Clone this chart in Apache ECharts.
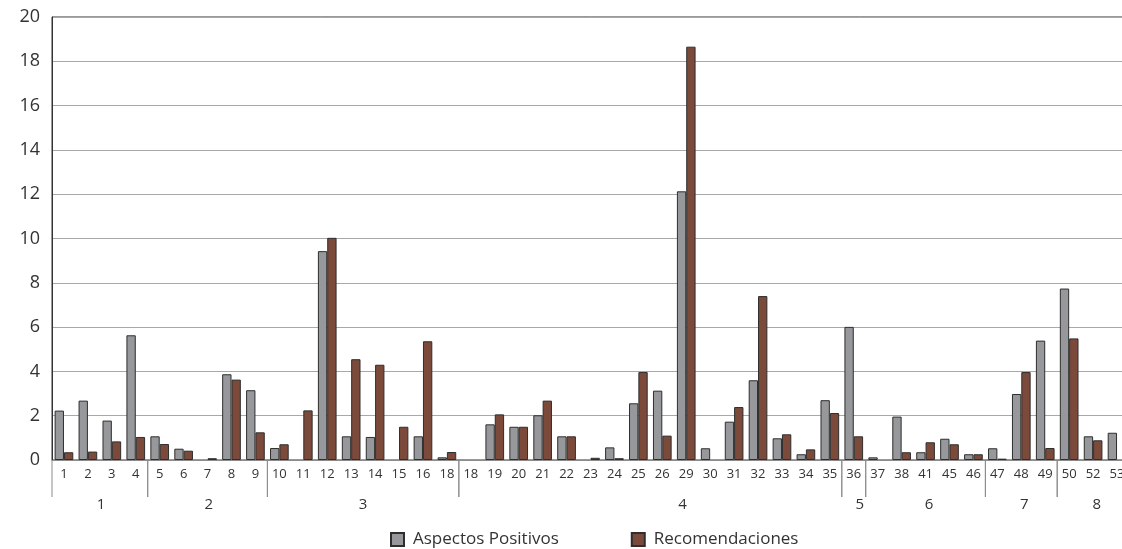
<!DOCTYPE html>
<html>
<head>
<meta charset="utf-8">
<script src="https://cdn.jsdelivr.net/npm/echarts@6/dist/echarts.min.js"></script>
<style>
html,body{margin:0;padding:0;background:#fff;overflow:hidden;width:1122px;height:549px;}
#chart{width:1134px;height:549px;}
</style>
</head>
<body>
<div id="chart"></div>
<script>
// Categories (sub-items) along the x axis
const categories = ['1','2','3','4','5','6','7','8','9','10','11','12','13','14','15','16','18','18','19','20','21','22','23','24','25','26','29','30','31','32','33','34','35','36','37','38','41','45','46','47','48','49','50','52','53'];
// Group names and how many categories each spans
const groupNames = ['1','2','3','4','5','6','7','8'];
const groupSizes = [4, 5, 8, 16, 1, 5, 3, 3];
// Series values
const aspectosPositivos = [2.23,2.68,1.78,5.63,1.07,0.51,0,3.87,3.15,0.54,0,9.43,1.07,1.04,0,1.07,0.12,0,1.61,1.5,2.02,1.07,0,0.57,2.56,3.13,12.13,0.53,1.73,3.6,0.98,0.26,2.7,6.01,0.12,1.96,0.35,0.96,0.26,0.53,2.98,5.39,7.74,1.07,1.23];
const recomendaciones   = [0.35,0.38,0.84,1.04,0.72,0.42,0.08,3.63,1.25,0.71,2.24,10.03,4.55,4.3,1.5,5.36,0.36,0,2.06,1.5,2.68,1.07,0.1,0.08,3.97,1.1,18.66,0,2.39,7.4,1.16,0.48,2.12,1.07,0,0.35,0.8,0.71,0.26,0.06,3.97,0.54,5.49,0.89,0];
// Y axis ticks
const yMin = 0, yMax = 20, yStep = 2;

// Build group spans [start, end, nameIndex]
const groupSpans = [];
let idx = 0;
groupSizes.forEach((n, i) => { groupSpans.push([idx, idx + n - 1, i]); idx += n; });

// zero values are not drawn as bars
const asBars = arr => arr.map(v => (v === 0 ? null : v));

const FONT = 'Open Sans';
const chart = echarts.init(document.getElementById('chart'), null, {renderer: 'canvas'});

// label shift (in category units) to reproduce the original's placement of the group labels
const labelShift = {0: 0.05, 1: 0.05, 2: 0, 3: 1.35, 4: 0.25, 5: 0.15, 6: 0.12, 7: 0.15};

chart.setOption({
  animation: false,
  textStyle: {fontFamily: FONT},
  grid: {left: 52, right: 5, top: 17, bottom: 89, show: true, borderColor: '#333', borderWidth: 1, backgroundColor: 'transparent', containLabel: false},
  legend: {
    left: 385, top: 526,
    itemWidth: 13, itemHeight: 13, itemGap: 72,
    icon: 'rect',
    textStyle: {fontSize: 17, color: '#333', fontFamily: FONT, padding: [0,0,0,4]},
    data: ['Aspectos Positivos', 'Recomendaciones']
  },
  xAxis: {
    type: 'category',
    data: categories,
    axisLine: {show: true, lineStyle: {color: '#8c8c8c', width: 1}},
    axisTick: {show: false},
    axisLabel: {interval: 0, fontSize: 13, color: '#333', margin: 8, fontFamily: FONT},
    splitLine: {show: false}
  },
  yAxis: {
    type: 'value',
    min: yMin, max: yMax, interval: yStep,
    axisLine: {show: true, lineStyle: {color: '#333', width: 1}},
    axisTick: {show: false},
    axisLabel: {fontSize: 18, color: '#333', margin: 12, fontFamily: FONT},
    splitLine: {show: true, lineStyle: {color: '#a8a8a8', width: 1.2}}
  },
  series: [
    {
      name: 'Aspectos Positivos', type: 'bar', data: asBars(aspectosPositivos),
      barGap: '0%', barCategoryGap: '22%',
      itemStyle: {color: '#96989b', borderColor: '#2e2e2e', borderWidth: 1}
    },
    {
      name: 'Recomendaciones', type: 'bar', data: asBars(recomendaciones),
      barGap: '0%', barCategoryGap: '22%',
      itemStyle: {color: '#7b4a3b', borderColor: '#2e2e2e', borderWidth: 1}
    },
    {
      type: 'custom', silent: true, clip: false, z: 5,
      encode: {x: 0},
      data: groupSpans,
      renderItem: function (params, api) {
        const s = api.value(0), e = api.value(1), gi = api.value(2);
        const ps = api.coord([s, 0]);
        const pe = api.coord([e, 0]);
        const w = api.size([1, 0])[0];
        const left = ps[0] - w / 2, right = pe[0] + w / 2;
        const y0 = ps[1];
        const cx = (left + right) / 2 + (labelShift[gi] || 0) * w;
        return {
          type: 'group',
          children: [
            {type: 'line', shape: {x1: left, y1: y0, x2: left, y2: y0 + 37}, style: {stroke: '#8c8c8c', lineWidth: 1}},
            {type: 'line', shape: {x1: right, y1: y0, x2: right, y2: y0 + 37}, style: {stroke: '#8c8c8c', lineWidth: 1}},
            {type: 'text', style: {x: cx, y: y0 + 45, text: groupNames[gi], fill: '#333', font: '15px "' + FONT + '"', textAlign: 'center', textVerticalAlign: 'middle'}}
          ]
        };
      }
    }
  ]
});
</script>
</body>
</html>
